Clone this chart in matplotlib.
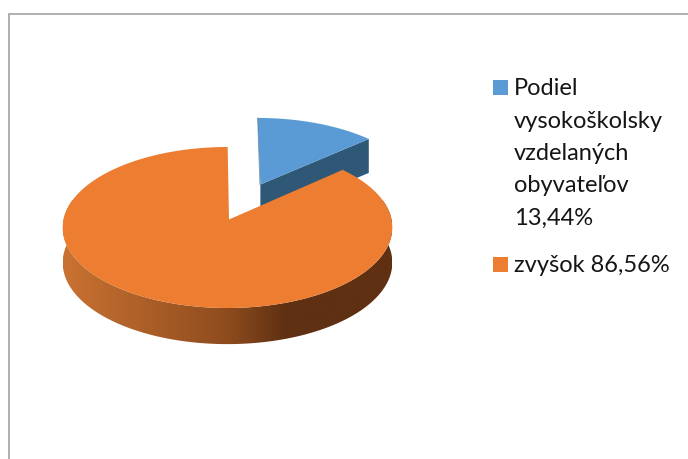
import numpy as np
import matplotlib
matplotlib.use('Agg')
import matplotlib.pyplot as plt
from matplotlib.colors import LinearSegmentedColormap
from matplotlib.patches import Polygon, Rectangle

plt.rcParams['font.family'] = ['Lato', 'DejaVu Sans']

# hodnoty z grafu
labels = ['Podiel\nvysokoškolsky\nvzdelaných\nobyvateľov\n13,44%', 'zvyšok 86,56%']
values = [13.44, 86.56]
colors = ['#5b9bd5', '#ed7d31']
side_blue = '#2f5877'

# pseudo 3D projekcia kruhu
cx, cy = 229, 219.5
rx, ry = 164, 79.7
k = 0.0994
depth = 35


def project(u, v):
    s = 1 / (1 + k * v)
    return cx + rx * u * s, cy - ry * v * s, depth * s ** 0.3


def sector(t1, t2, u0=0, v0=0):
    t = np.radians(np.linspace(t1, t2, 300))
    x, y, d = project(u0 + np.sin(t), v0 + np.cos(t))
    return x, y, d


fig = plt.figure(figsize=(6.88, 4.59), dpi=100)
ax = fig.add_axes([0, 0, 1, 1])
ax.set_xlim(0, 688)
ax.set_ylim(459, 0)
ax.axis('off')

# ramcek
ax.plot([9, 9, 688], [459, 13.5, 13.5], color='#9a9a9a', lw=1.1, solid_joinstyle='miter')

angle = values[0] / sum(values) * 360

# modry vysek - vytiahnuty
u0, v0 = 0.2, 0.459
ax_, ay_, ad_ = project(u0, v0)
x, y, d = sector(0, angle, u0, v0)
ax.add_patch(Polygon([(ax_, ay_), (x[-1], y[-1]), (x[-1], y[-1] + d[-1]), (ax_, ay_ + ad_)],
                     closed=True, fc=side_blue, ec='none', zorder=2))
ax.add_patch(Polygon(np.r_[[[ax_, ay_]], np.c_[x, y]], closed=True, fc=colors[0], ec='none', zorder=3))
ax.plot([ax_ - 0.5, x[0]], [ay_, y[0]], color=side_blue, lw=0.6, alpha=0.6, zorder=3)

# oranzovy vysek - bok s prechodom
xt, yt, dt = sector(60, 300, -0.009, 0)
side_pts = np.r_[np.c_[xt, yt], np.c_[xt, yt + dt][::-1]]
clip = Polygon(side_pts, closed=True, fc='none', ec='none', transform=ax.transData)
ax.add_patch(clip)
cmap = LinearSegmentedColormap.from_list(
    'bok', [(0, '#c97232'), (0.5, '#8e4c1e'), (0.68, '#5f3012'), (1, '#5f3012')])
im = ax.imshow(np.linspace(0, 1, 256)[None, :], extent=(63, 392, 350, 200), cmap=cmap,
               aspect='auto', zorder=4)
im.set_clip_path(clip)
ax.set_xlim(0, 688)
ax.set_ylim(459, 0)

# oranzovy vysek - vrch
x, y, d = sector(angle, 360, -0.009, 0)
ax.add_patch(Polygon(np.r_[[[cx, cy]], np.c_[x, y]], closed=True, fc=colors[1], ec='none', zorder=5))

# legenda
ax.add_patch(Rectangle((493, 80), 15, 15, fc=colors[0], ec='none'))
ax.add_patch(Rectangle((493, 257), 15, 15, fc=colors[1], ec='none'))
for i, line in enumerate(labels[0].split('\n')):
    ax.text(514, 95 + i * 32.5, line, fontsize=17, color='#151515', va='baseline', ha='left')
ax.text(514, 272, labels[1], fontsize=17, color='#151515', va='baseline', ha='left')

fig.savefig('out.png', dpi=100)
